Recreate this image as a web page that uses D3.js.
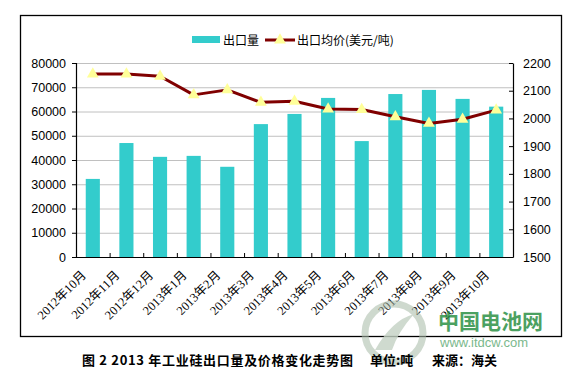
<!DOCTYPE html>
<html><head><meta charset="utf-8">
<script src="https://cdn.jsdelivr.net/npm/d3@7/dist/d3.min.js"></script>
<style>
html,body{margin:0;padding:0;background:#fff;}
svg{display:block;}
</style></head>
<body><svg id="c" width="580" height="374"></svg>
<script>
const categories = ["2012年10月","2012年11月","2012年12月","2013年1月","2013年2月","2013年3月","2013年4月","2013年5月","2013年6月","2013年7月","2013年8月","2013年9月","2013年10月"];
const exportVolume = [32200, 47000, 41300, 41700, 37200, 54800, 59000, 65600, 47800, 67200, 68900, 65200, 62000];
const exportPrice = [2160, 2160, 2152, 2085, 2103, 2058, 2062, 2034, 2032, 2006, 1982, 1997, 2030];
const leftTicks = [0,10000,20000,30000,40000,50000,60000,70000,80000];
const rightTicks = [1500,1600,1700,1800,1900,2000,2100,2200];
const legendLabels = ["出口量","出口均价(美元/吨)"];
const captionParts = ["图 2 2013 年工业硅出口量及价格变化走势图","单位:吨","来源：海关"];

const svg = d3.select("#c");
const L = 76, R = 513, T = 63, B = 257;
const numFont = "Arial, 'Liberation Sans', sans-serif";

// outer border
svg.append("rect").attr("x",20.5).attr("y",15.5).attr("width",541).attr("height",321)
  .attr("fill","none").attr("stroke","#000").attr("stroke-width",1.3);

const x = d3.scaleBand().domain(categories).range([L,R]).paddingInner(0.58).paddingOuter(0.29);
const yL = d3.scaleLinear().domain([0,80000]).range([B,T]);
const yR = d3.scaleLinear().domain([1500,2200]).range([B,T]);

// gridlines
svg.append("g").selectAll("line").data(leftTicks.slice(1)).join("line")
  .attr("x1",L).attr("x2",R).attr("y1",d=>yL(d)+0.5).attr("y2",d=>yL(d)+0.5)
  .attr("stroke","#c0c0c0").attr("stroke-width",1);

// bars
svg.append("g").selectAll("rect").data(categories).join("rect")
  .attr("x",d=>x(d)).attr("width",x.bandwidth())
  .attr("y",(d,i)=>yL(exportVolume[i])).attr("height",(d,i)=>B-yL(exportVolume[i]))
  .attr("fill","#33CCCC");

// left axis
const gl = svg.append("g").attr("transform",`translate(${L},0)`)
  .call(d3.axisLeft(yL).tickValues(leftTicks).tickSize(4).tickPadding(6).tickFormat(d3.format("d")));
gl.select(".domain").attr("stroke","#000").attr("stroke-width",1.2);
gl.selectAll("text").attr("font-family",numFont).attr("font-size","12.5px").attr("fill","#000");

// right axis
const gr = svg.append("g").attr("transform",`translate(${R},0)`)
  .call(d3.axisRight(yR).tickValues(rightTicks).tickSizeInner(-4).tickSizeOuter(0).tickPadding(10).tickFormat(d3.format("d")));
gr.select(".domain").attr("stroke","#000").attr("stroke-width",1.2);
gr.selectAll("text").attr("font-family",numFont).attr("font-size","12.5px").attr("fill","#000");

// bottom axis: tick marks between categories
const xb = d3.scaleLinear().domain([0,categories.length]).range([L,R]);
const gb = svg.append("g").attr("transform",`translate(0,${B})`)
  .call(d3.axisBottom(xb).tickValues(d3.range(categories.length+1)).tickSizeInner(-4).tickSizeOuter(0).tickFormat(""));
gb.select(".domain").attr("stroke","#000").attr("stroke-width",1.2);

// bottom labels
const gx = svg.append("g").attr("transform",`translate(0,${B})`)
  .call(d3.axisBottom(x).tickSize(0).tickPadding(0));
gx.select(".domain").remove();
gx.selectAll("text")
  .attr("font-family","'Liberation Serif', 'Noto Sans CJK SC', serif").attr("font-size","12.5px").attr("fill","#000")
  .attr("text-anchor","end").attr("dy",0).attr("y",0)
  .attr("transform","translate(-6,19) rotate(-45)");

// price line
const line = d3.line().x((d,i)=>x(categories[i])+x.bandwidth()/2).y(d=>yR(d));
svg.append("path").datum(exportPrice).attr("d",line)
  .attr("fill","none").attr("stroke","#800000").attr("stroke-width",3).attr("stroke-linejoin","round");
const tri = d3.symbol().type(d3.symbolTriangle).size(60);
svg.append("g").selectAll("path").data(exportPrice).join("path")
  .attr("d",tri)
  .attr("transform",(d,i)=>`translate(${x(categories[i])+x.bandwidth()/2},${yR(d)})`)
  .attr("fill","#FFFF99");

// legend
const lg = svg.append("g");
lg.append("rect").attr("x",192).attr("y",36).attr("width",28).attr("height",7).attr("fill","#33CCCC");
lg.append("text").attr("x",223).attr("y",44.5).text(legendLabels[0])
  .attr("font-family","'Noto Sans CJK SC', sans-serif").attr("font-size","12px");
lg.append("line").attr("x1",265).attr("x2",295).attr("y1",40).attr("y2",40).attr("stroke","#800000").attr("stroke-width",3);
lg.append("path").attr("d",tri).attr("transform","translate(280,40)").attr("fill","#FFFF99");
lg.append("text").attr("x",297).attr("y",44.5).text(legendLabels[1])
  .attr("font-family","'Noto Sans CJK SC', sans-serif").attr("font-size","12px");

// watermark
const wm = svg.append("g").attr("opacity",0.8);
wm.append("circle").attr("cx",394).attr("cy",333).attr("r",29).attr("fill","none").attr("stroke","#a9bca9").attr("stroke-width",7).attr("opacity",0.7);
wm.append("path").attr("d","M375,350 Q392,320 414,314 Q398,332 392,350 Z").attr("fill","#c4d2c4");
wm.append("text").attr("x",438).attr("y",329).text("中国电池网")
  .attr("font-family","'Noto Sans CJK SC', sans-serif").attr("font-weight","bold").attr("font-size","21px").attr("fill","#1f8a3a");
wm.append("text").attr("x",440).attr("y",347).text("www.itdcw.com")
  .attr("font-family","Arial, sans-serif").attr("font-size","13px").attr("fill","#5aa870");

// caption
const cap = svg.append("g").attr("font-family","'Noto Sans CJK SC', sans-serif").attr("font-weight","bold").attr("font-size","13px").attr("fill","#000");
cap.append("text").attr("x",82).attr("y",365).attr("textLength",271).attr("lengthAdjust","spacing").text(captionParts[0]);
cap.append("text").attr("x",370).attr("y",365).text(captionParts[1]);
cap.append("text").attr("x",432).attr("y",365).text(captionParts[2]);
</script></body></html>
